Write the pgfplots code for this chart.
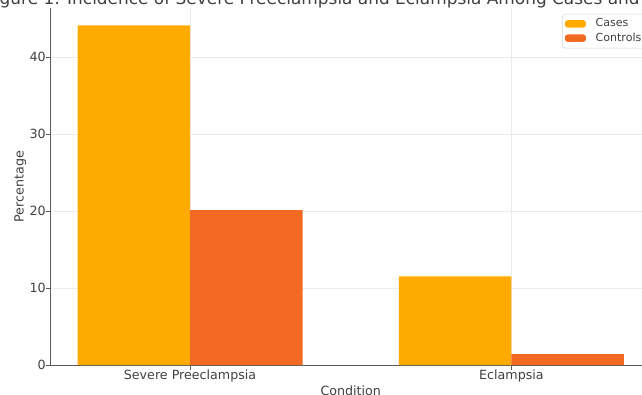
\documentclass[border=0pt]{standalone}
\usepackage{pgfplots}
\pgfplotsset{compat=1.18}
\usepackage{fontspec}
\setmainfont{DejaVu Sans}
\definecolor{casecol}{HTML}{FFAA00}
\definecolor{ctrlcol}{HTML}{F26A21}
\definecolor{spine}{HTML}{5A5A5A}
\definecolor{gridc}{HTML}{EBEBEB}
\definecolor{txt}{HTML}{404040}
\begin{document}
\begin{tikzpicture}
\path[use as bounding box] (-37.7pt,-21.75pt) rectangle (443.8pt,273.75pt);
\clip (-37.7pt,-21.75pt) rectangle (443.8pt,273.75pt);
\begin{axis}[
  name=ax,
  at={(0pt,0pt)}, anchor=south west,
  scale only axis, width=450.75pt, height=267.4pt,
  xmin=-0.435, xmax=1.435, ymin=0, ymax=46.3,
  xtick={0,1}, xticklabels={Severe Preeclampsia, Eclampsia},
  ytick={0,10,20,30,40},
  axis x line*=bottom, axis y line*=left,
  axis line style={draw=spine, line width=0.6pt, -},
  grid=major, major grid style={draw=gridc, line width=0.6pt},
  tick align=outside, major tick length=3.5pt,
  tick style={draw=spine, line width=0.6pt},
  /pgf/number format/assume math mode=true,
  tick label style={font=\fontsize{9.5}{11}\selectfont, text=txt},
  yticklabel style={xshift=3.6pt},
  xticklabel style={yshift=3.3pt},
  label style={font=\fontsize{9.5}{11}\selectfont, text=txt},
  xlabel={Condition},
  xlabel style={at={(axis description cs:0.5,0)}, anchor=base, yshift=-23pt},
  ylabel={Percentage},
  ylabel style={at={(axis description cs:-0.05,0.5)}, anchor=center},
  legend style={at={(0.8515,0.985)}, anchor=north west, draw=gridc!80!gray, rounded corners=2pt,
    font=\fontsize{8.3}{9.4}\selectfont, text=txt, fill=white, inner xsep=2pt, inner ysep=1.5pt,
    row sep=-1pt},
  legend cell align=left,
]
\addplot[ybar, bar width=0.35, bar shift=-0.175, fill=casecol, draw=none,
  legend image code/.code={\fill[casecol] (0pt,-2.75pt) rectangle (15.75pt,2.75pt); \path (21pt,0pt);}]
  coordinates {(0,44.1) (1,11.5)};
\addlegendentry{Cases}
\addplot[ybar, bar width=0.35, bar shift=0.175, fill=ctrlcol, draw=none,
  legend image code/.code={\fill[ctrlcol] (0pt,-2.75pt) rectangle (15.75pt,2.75pt); \path (21pt,0pt);}]
  coordinates {(0,20.1) (1,1.4)};
\addlegendentry{Controls}
\end{axis}
\node[anchor=base, font=\fontsize{12.7}{15}\selectfont, text=txt] at ([yshift=3pt]ax.north)
  {Figure 1: Incidence of Severe Preeclampsia and Eclampsia Among Cases and Controls};
\end{tikzpicture}
\end{document}
